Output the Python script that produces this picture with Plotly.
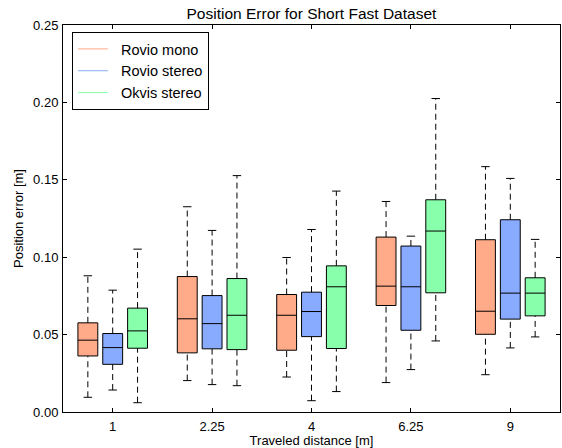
import plotly.graph_objects as go

categories = ["1", "2.25", "4", "6.25", "9"]
series_names = ["Rovio mono", "Rovio stereo", "Okvis stereo"]
colors = ["#FFAA88", "#88AAFF", "#88FFAA"]

# per series: one value per category
lower_whisker = [
    [0.0095, 0.0203, 0.0226, 0.0190, 0.0241],
    [0.0142, 0.0177, 0.0073, 0.0274, 0.0414],
    [0.0060, 0.0170, 0.0132, 0.0459, 0.0485],
]
q1 = [
    [0.0362, 0.0382, 0.0399, 0.0688, 0.0502],
    [0.0308, 0.0408, 0.0487, 0.0528, 0.0600],
    [0.0412, 0.0403, 0.0410, 0.0770, 0.0621],
]
median = [
    [0.0464, 0.0602, 0.0625, 0.0813, 0.0651],
    [0.0416, 0.0571, 0.0649, 0.0809, 0.0768],
    [0.0524, 0.0625, 0.0809, 0.1169, 0.0768],
]
q3 = [
    [0.0576, 0.0875, 0.0759, 0.1130, 0.1113],
    [0.0507, 0.0752, 0.0774, 0.1072, 0.1242],
    [0.0671, 0.0862, 0.0944, 0.1371, 0.0867],
]
upper_whisker = [
    [0.0880, 0.1326, 0.0998, 0.1360, 0.1585],
    [0.0787, 0.1173, 0.1179, 0.1136, 0.1509],
    [0.1052, 0.1527, 0.1427, 0.2025, 0.1115],
]

group_step = 4
box_width = 0.8
cap_half = 0.17

fig = go.Figure()
tick_pos = []
for c in range(len(categories)):
    tick_pos.append(group_step * c + 2)

for s in range(3):
    xs = [group_step * c + 1 + s for c in range(len(categories))]
    # dashed whiskers
    wx, wy = [], []
    cx, cy = [], []
    for i, x in enumerate(xs):
        wx += [x, x, None, x, x, None]
        wy += [lower_whisker[s][i], q1[s][i], None, q3[s][i], upper_whisker[s][i], None]
        cx += [x - cap_half, x + cap_half, None, x - cap_half, x + cap_half, None]
        cy += [lower_whisker[s][i], lower_whisker[s][i], None, upper_whisker[s][i], upper_whisker[s][i], None]
    fig.add_trace(go.Scatter(x=wx, y=wy, mode="lines", showlegend=False, hoverinfo="skip",
                             line=dict(color="black", width=1, dash="6px,4px")))
    fig.add_trace(go.Scatter(x=cx, y=cy, mode="lines", showlegend=False, hoverinfo="skip",
                             line=dict(color="black", width=1)))
    fig.add_trace(go.Box(
        x=xs, q1=q1[s], median=median[s], q3=q3[s],
        lowerfence=q1[s], upperfence=q3[s],
        width=box_width, whiskerwidth=0, boxpoints=False,
        fillcolor=colors[s], line=dict(color="black", width=1),
        showlegend=False, name=series_names[s],
    ))

for s in range(3):
    fig.add_trace(go.Scatter(x=[None], y=[None], mode="lines", name="\u00a0\u00a0" + series_names[s],
                             line=dict(color=colors[s], width=1)))

axis_common = dict(showline=True, linecolor="black", linewidth=1, mirror="ticks",
                   ticks="inside", ticklen=4, tickcolor="black", showgrid=False,
                   zeroline=False, tickfont=dict(size=13, color="black"))

fig.update_layout(
    width=562, height=448,
    margin=dict(l=63, r=2, t=25, b=36),
    paper_bgcolor="white", plot_bgcolor="white",
    font=dict(family="Liberation Sans, Arial, sans-serif", color="black"),
    title=dict(text="Position Error for Short Fast Dataset", x=0.5542, xanchor="center",
               y=0.970, yanchor="middle", font=dict(size=15.5)),
    boxmode="overlay",
    xaxis=dict(range=[0, 20], tickvals=tick_pos, ticktext=categories, ticklabelstandoff=2,
               title=dict(text="Traveled distance [m]", font=dict(size=13), standoff=1), **axis_common),
    yaxis=dict(range=[0, 0.25], dtick=0.05, tickformat=".2f", ticklabelstandoff=1,
               title=dict(text="Position error [m]", font=dict(size=13), standoff=6), **axis_common),
    legend=dict(x=0.018, y=0.982, xanchor="left", yanchor="top", bgcolor="white",
                bordercolor="black", borderwidth=1, font=dict(size=14.5), tracegroupgap=0),
)

fig.write_html("out.html")
